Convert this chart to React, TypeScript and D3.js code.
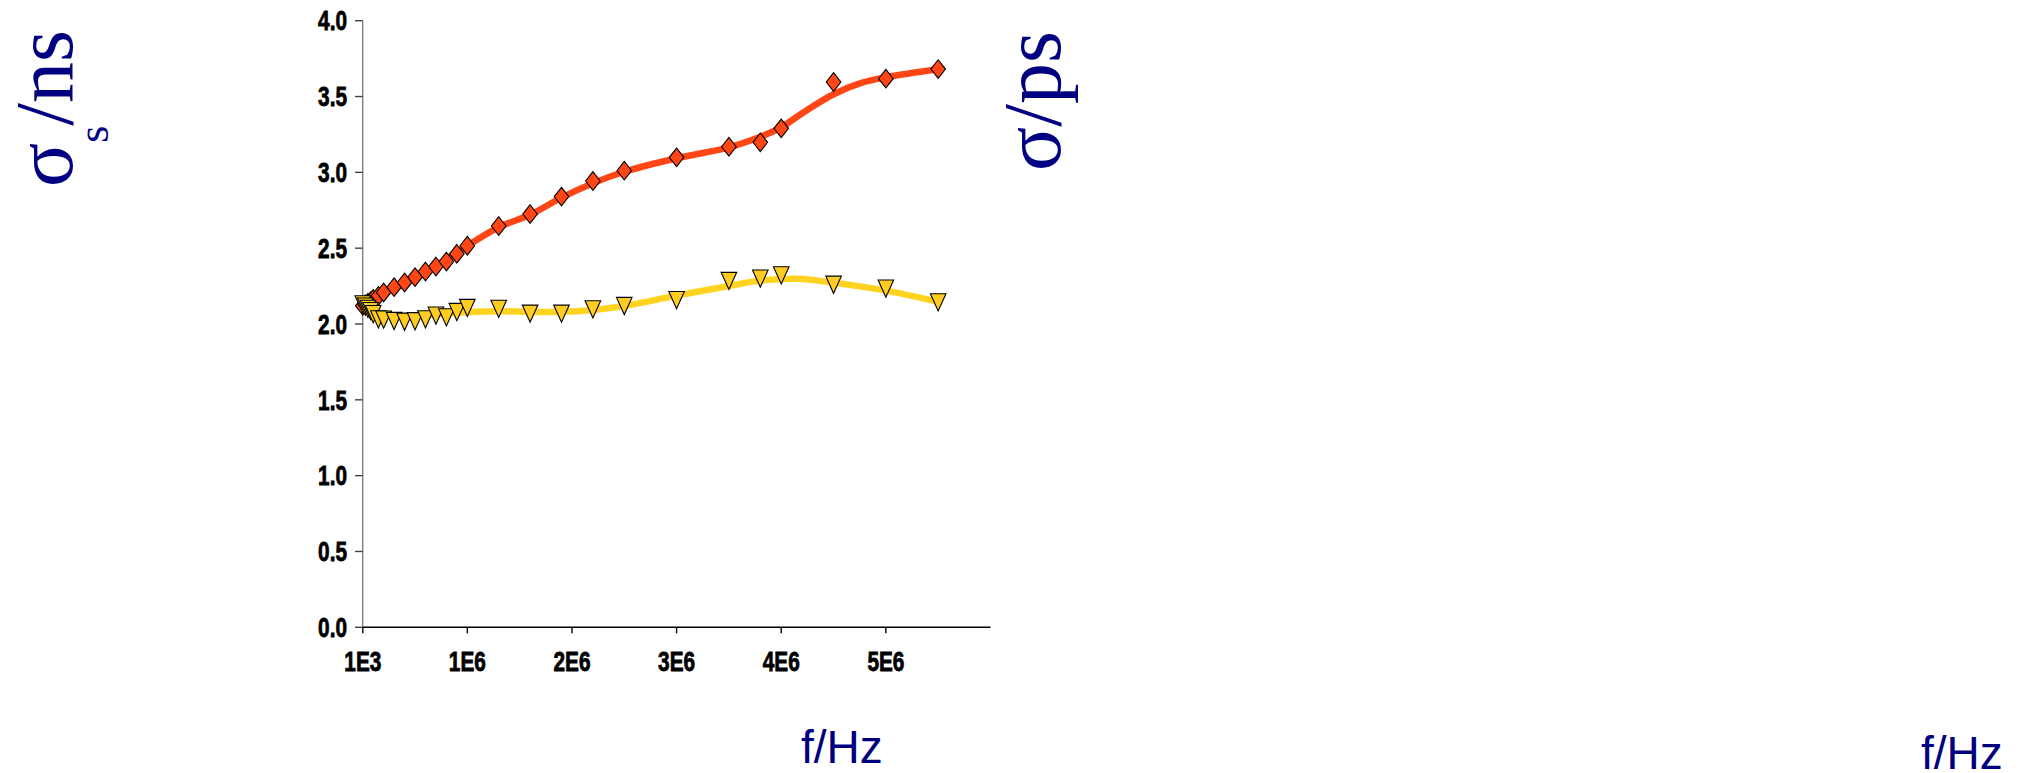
import React from "react";
import * as d3 from "d3";

// ---- data ----
const FREQ = [1e3, 2.5e4, 5e4, 7.5e4, 1e5, 1.5e5, 2e5, 3e5, 4e5, 5e5, 6e5, 7e5, 8e5, 9e5, 1e6, 1.3e6, 1.6e6, 1.9e6, 2.2e6, 2.5e6, 3e6, 3.5e6, 3.8e6, 4e6, 4.5e6, 5e6, 5.5e6];
const RED = [2.12, 2.13, 2.14, 2.15, 2.165, 2.185, 2.208, 2.243, 2.274, 2.309, 2.346, 2.379, 2.412, 2.463, 2.516, 2.646, 2.725, 2.84, 2.943, 3.011, 3.099, 3.169, 3.198, 3.29, 3.596, 3.618, 3.681];
const YELLOW = [2.13, 2.115, 2.1, 2.085, 2.065, 2.031, 2.029, 2.02, 2.015, 2.018, 2.031, 2.055, 2.044, 2.079, 2.106, 2.1, 2.068, 2.068, 2.097, 2.119, 2.158, 2.284, 2.299, 2.321, 2.259, 2.233, 2.143];

// smoothed fit curves
const FIT_F = [1e3, 1e5, 2e5, 3e5, 5e5, 7e5, 1e6, 1.3e6, 1.6e6, 1.9e6, 2.2e6, 2.5e6, 3e6, 3.5e6, 3.8e6, 4e6, 4.2e6, 4.5e6, 4.75e6, 5e6, 5.5e6];
const RED_FIT = [2.125, 2.165, 2.205, 2.24, 2.31, 2.385, 2.516, 2.638, 2.72, 2.833, 2.928, 3.004, 3.093, 3.165, 3.235, 3.297, 3.39, 3.515, 3.587, 3.627, 3.68];
const YELLOW_FIT = [2.12, 2.07, 2.055, 2.05, 2.055, 2.065, 2.078, 2.084, 2.08, 2.08, 2.093, 2.119, 2.187, 2.251, 2.286, 2.295, 2.297, 2.272, 2.248, 2.22, 2.147];

const X_TICKS = [1e3, 1e6, 2e6, 3e6, 4e6, 5e6];
const X_TICK_LABELS = ["1E3", "1E6", "2E6", "3E6", "4E6", "5E6"];
const Y_TICKS = [0, 0.5, 1, 1.5, 2, 2.5, 3, 3.5, 4];

const W = 2028;
const H = 773;
const NAVY = "#000080";
const RED_C = "#FF4614";
const YEL_LINE = "#FFD320";
const YEL_FILL = "#FFCC22";
const TICK_FONT = "'Liberation Sans', Arial, sans-serif";
const SQUEEZE = 0.77;

export default function App() {
  const x = d3.scaleLinear().domain([0, 6e6]).range([362.7, 990.5]);
  const y = d3.scaleLinear().domain([0, 4]).range([627.3, 20.7]);

  const line = d3
    .line<[number, number]>()
    .x((d) => x(d[0]))
    .y((d) => y(d[1]))
    .curve(d3.curveCatmullRom.alpha(0.5));

  const redFit = FIT_F.map((f, i) => [f, RED_FIT[i]] as [number, number]);
  const yelFit = FIT_F.map((f, i) => [f, YELLOW_FIT[i]] as [number, number]);

  const diamond = (cx: number, cy: number) => {
    const hw = 7.3, hh = 9.3;
    return `M${cx},${cy - hh}L${cx + hw},${cy}L${cx},${cy + hh}L${cx - hw},${cy}Z`;
  };
  const triDown = (cx: number, cy: number) => {
    const hw = 7.8, hh = 8.6;
    return `M${cx - hw},${cy - hh}L${cx + hw},${cy - hh}L${cx},${cy + hh}Z`;
  };

  return (
    <svg
      width={W}
      height={H}
      style={{ position: "absolute", left: 0, top: 0, display: "block", background: "#fff" }}
    >
      <rect x={0} y={0} width={W} height={H} fill="#fff" />

      {/* Y axis */}
      <line x1={x(0)} x2={x(0)} y1={y(0)} y2={y(4)} stroke="#808080" strokeWidth={1.4} />
      {Y_TICKS.map((t) => (
        <g key={"yt" + t}>
          <line x1={x(0) - 7.7} x2={x(0)} y1={y(t)} y2={y(t)} stroke="#404040" strokeWidth={1.4} />
          <text
            transform={`translate(347,${y(t)}) scale(${SQUEEZE},1)`}
            dy="0.36em"
            textAnchor="end"
            fontFamily={TICK_FONT}
            fontWeight="bold"
            fontSize={27}
            fill="#000"
            stroke="#000"
            strokeWidth={0.8}
          >
            {d3.format(".1f")(t)}
          </text>
        </g>
      ))}

      {/* X axis */}
      <line x1={x(0)} x2={x(6e6)} y1={y(0)} y2={y(0)} stroke="#000" strokeWidth={1.4} />
      {X_TICKS.map((t, i) => (
        <g key={"xt" + t}>
          <line x1={x(t)} x2={x(t)} y1={y(0)} y2={y(0) + 6} stroke="#000" strokeWidth={1.4} />
          <text
            transform={`translate(${x(t)},671) scale(${SQUEEZE},1)`}
            textAnchor="middle"
            fontFamily={TICK_FONT}
            fontWeight="bold"
            fontSize={27}
            fill="#000"
            stroke="#000"
            strokeWidth={0.8}
          >
            {X_TICK_LABELS[i]}
          </text>
        </g>
      ))}

      {/* fit lines */}
      <path d={line(yelFit) || ""} fill="none" stroke={YEL_LINE} strokeWidth={6.5} />
      <path d={line(redFit) || ""} fill="none" stroke={RED_C} strokeWidth={6.5} />

      {/* markers */}
      {FREQ.map((f, i) => (
        <path key={"r" + i} d={diamond(x(f), y(RED[i]))} fill={RED_C} stroke="#000" strokeWidth={1.1} />
      ))}
      {FREQ.map((f, i) => (
        <path key={"yl" + i} d={triDown(x(f), y(YELLOW[i]))} fill={YEL_FILL} stroke="#000" strokeWidth={1.1} />
      ))}

      {/* axis titles */}
      <text
        transform="translate(72,187) rotate(-90)"
        fontFamily="'Liberation Serif', 'Times New Roman', serif"
        fontSize={82}
        fill={NAVY}
      >
        σ
        <tspan fontSize={44} dy={36}>s</tspan>
        <tspan dy={-36}>/ns</tspan>
      </text>
      <text
        transform="translate(1060,171) rotate(-90)"
        fontFamily="'Liberation Serif', 'Times New Roman', serif"
        fontSize={82}
        fill={NAVY}
      >
        σ/ps
      </text>
      <text x={801} y={763} fontFamily="'Liberation Sans', Arial, sans-serif" fontSize={46} fill={NAVY}>
        f/Hz
      </text>
      <text x={1921} y={769} fontFamily="'Liberation Sans', Arial, sans-serif" fontSize={46} fill={NAVY}>
        f/Hz
      </text>
    </svg>
  );
}
